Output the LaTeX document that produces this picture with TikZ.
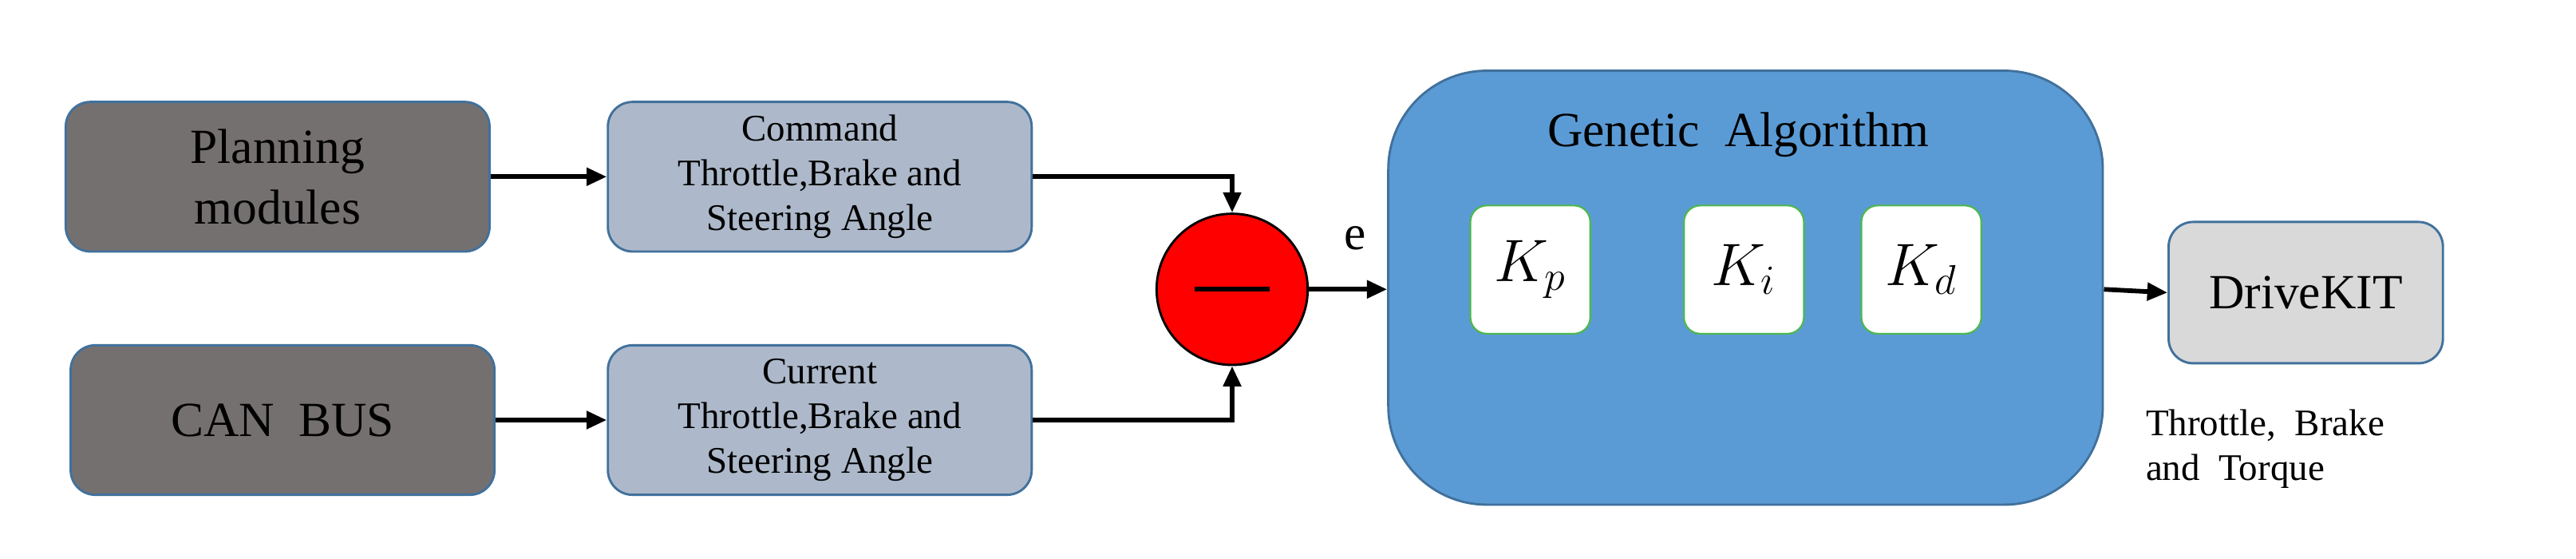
\documentclass[tikz,border=0pt]{standalone}
\usepackage{fontspec}
\setmainfont{Liberation Serif}
\usetikzlibrary{arrows.meta}
\definecolor{dgray}{HTML}{757070}
\definecolor{lblue}{HTML}{ADB9CA}
\definecolor{gablue}{HTML}{5B9BD5}
\definecolor{edge}{HTML}{41719C}
\definecolor{lgray}{HTML}{D9D9D9}
\begin{document}
\begin{tikzpicture}[x=0.02cm,y=-0.02cm,
  box/.style={draw=edge,line width=0.8pt,rounded corners=0.3cm,align=center,inner sep=0pt},
  arr/.style={line width=1.6pt,-{Triangle[length=7pt,width=6pt]}},
  kbox/.style={draw=green!60!black!70,fill=white,line width=0.6pt,rounded corners=0.2cm,minimum width=1.46cm,minimum height=1.56cm,inner sep=0pt}]
\useasboundingbox (0,0) rectangle (1568,340);
\node[box,fill=dgray,minimum width=5.16cm,minimum height=1.82cm,font=\fontsize{17}{21}\selectfont] (plan) at (169,107.5) {Planning\\modules};
\node[box,fill=dgray,minimum width=5.16cm,minimum height=1.82cm,font=\fontsize{17}{21}\selectfont] (can) at (172,255.5) {CAN\ \ BUS};
\node[box,fill=lblue,minimum width=5.16cm,minimum height=1.82cm,font=\fontsize{13}{15.5}\selectfont] (cmd) at (499,107.5) {Command\\Throttle,Brake and\\Steering Angle};
\node[box,fill=lblue,minimum width=5.16cm,minimum height=1.82cm,font=\fontsize{13}{15.5}\selectfont] (cur) at (499,255.5) {Current\\Throttle,Brake and\\Steering Angle};
\node[circle,draw=black,line width=0.8pt,fill=red,minimum size=1.84cm,inner sep=0pt] (sum) at (750,176) {};
\draw[line width=1.6pt] (727,176) -- (773,176);
\node[box,fill=gablue,rounded corners=1.2cm,minimum width=8.7cm,minimum height=5.28cm] (ga) at (1062.5,175) {};
\node[font=\fontsize{17}{20}\selectfont] (gat) at (1058,82) {Genetic\ \ Algorithm};
\node[kbox,font=\fontsize{22}{24}\selectfont] (kp) at (931.5,164) {$K_p$};
\node[kbox,font=\fontsize{22}{24}\selectfont] (ki) at (1061.5,164) {$K_i$};
\node[kbox,font=\fontsize{22}{24}\selectfont] (kd) at (1169.5,164) {$K_d$};
\node[box,fill=lgray,minimum width=3.34cm,minimum height=1.72cm,font=\fontsize{17}{20}\selectfont] (dk) at (1403.5,178) {DriveKIT};
\node[font=\fontsize{13}{15.5}\selectfont,align=left,anchor=west] (out) at (1300,273) {Throttle,\ \ Brake\\and\ \ Torque};
\node[font=\fontsize{17}{20}\selectfont] (e) at (825,145) {e};
\draw[arr] (plan) -- (cmd);
\draw[arr] (can) -- (cur);
\draw[arr] (cmd.east) -| (sum.north);
\draw[arr] (cur.east) -| (sum.south);
\draw[arr] (sum) -- (ga.west |- sum);
\draw[arr] (ga.east |- sum) -- (dk.west);
\end{tikzpicture}
\end{document}
